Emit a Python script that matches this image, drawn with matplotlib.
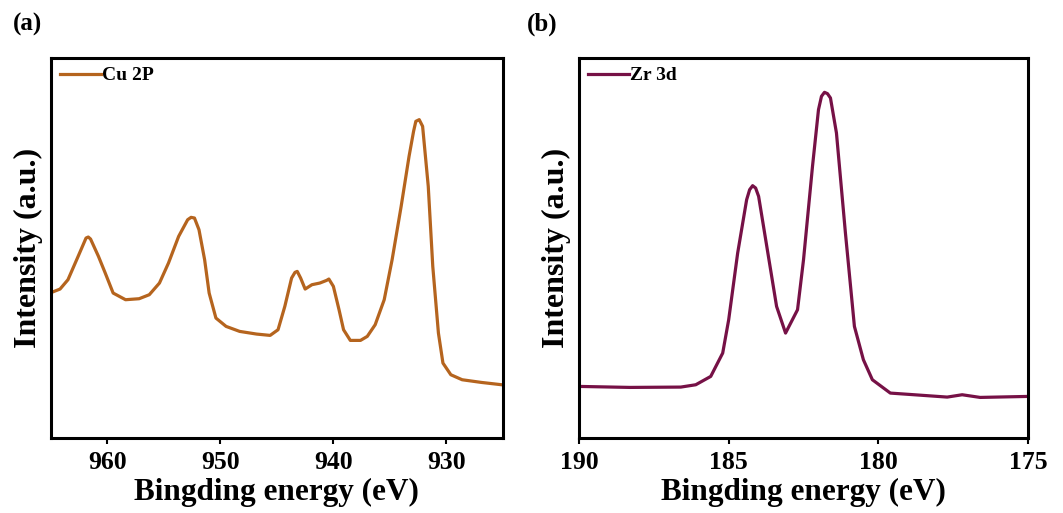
import matplotlib
matplotlib.use("Agg")
import matplotlib.pyplot as plt

# Cu 2p spectrum (binding energy eV, intensity a.u.)
cu_energy = [965.1, 964.2, 963.5, 962.6, 961.9, 961.7, 961.5, 960.8, 960.2, 959.5, 958.4,
             957.2, 956.3, 955.4, 954.6, 953.7, 952.9, 952.6, 952.3, 951.9, 951.4, 951.0,
             950.4, 949.5, 948.3, 946.8, 945.6, 944.9, 944.3, 943.7, 943.4, 943.2, 942.9,
             942.5, 941.9, 941.2, 940.6, 940.4, 940.0, 939.5, 939.1, 938.5, 937.6, 937.0,
             936.3, 935.5, 934.8, 934.0, 933.3, 932.9, 932.7, 932.4, 932.1, 931.6, 931.2,
             930.7, 930.3, 929.6, 928.6, 926.9, 925.1]
cu_intensity = [435, 447, 475, 545, 600, 603, 597, 545, 495, 435, 415,
                418, 430, 465, 525, 605, 655, 662, 660, 625, 535, 435,
                360, 335, 320, 312, 308, 325, 395, 480, 497, 500, 480,
                447, 460, 465, 473, 477, 455, 385, 325, 293, 293, 305,
                340, 415, 535, 695, 845, 920, 950, 955, 935, 755, 515,
                315, 225, 190, 175, 167, 160]

# Zr 3d spectrum
zr_energy = [190.0, 188.3, 186.6, 186.1, 185.6, 185.2, 185.0, 184.7, 184.4, 184.3, 184.2,
             184.1, 184.0, 183.8, 183.4, 183.1, 182.7, 182.5, 182.2, 182.0, 181.9, 181.8,
             181.7, 181.6, 181.4, 181.1, 180.8, 180.5, 180.2, 179.6, 178.8, 177.7, 177.2,
             176.6, 175.0]
zr_intensity = [155, 152, 153, 160, 185, 255, 355, 555, 715, 745, 757,
                750, 725, 615, 395, 315, 385, 535, 815, 985, 1025, 1037,
                1033, 1020, 915, 615, 335, 235, 175, 135, 130, 123, 130,
                122, 125]

cu_ticks = [960, 950, 940, 930]
zr_ticks = [190, 185, 180, 175]

plt.rcParams['font.family'] = ['Liberation Serif', 'DejaVu Serif']
plt.rcParams['font.weight'] = 'bold'

fig = plt.figure(figsize=(10.63, 5.13), dpi=100)
ax1 = fig.add_axes([0.048, 0.146, 0.425, 0.741])
ax2 = fig.add_axes([0.5447, 0.146, 0.4224, 0.741])

panels = [
    (ax1, cu_energy, cu_intensity, '#B5641E', 'Cu 2P', (965, 925), cu_ticks, '(a)', 0.012),
    (ax2, zr_energy, zr_intensity, '#761146', 'Zr 3d', (190, 175), zr_ticks, '(b)', 0.496),
]
for ax, x, y, c, lab, xl, ticks, pl, px in panels:
    ax.plot(x, y, color=c, lw=2.3, label=lab)
    ax.set_xlim(*xl)
    ax.set_ylim(0, 1140)
    ax.set_xticks(ticks)
    ax.set_yticks([])
    ax.tick_params(axis='x', direction='out', length=4, width=1.5, labelsize=18.5, pad=5)
    for t in ax.get_xticklabels():
        t.set_fontweight('bold')
    for s in ax.spines.values():
        s.set_linewidth(2.2)
    ax.set_xlabel('Bingding energy (eV)', fontsize=22.5, fontweight='bold', labelpad=3)
    ax.set_ylabel('Intensity (a.u.)', fontsize=23, fontweight='bold', labelpad=6)
    ax.legend(loc='upper left', frameon=False, handlelength=2.1, handletextpad=0.05,
              borderaxespad=0.15, borderpad=0.3, prop={'size': 14, 'weight': 'bold'})
    fig.text(px, 0.93, pl, fontsize=18, fontweight='bold', ha='left', va='bottom')

fig.savefig('out.png', dpi=100)
